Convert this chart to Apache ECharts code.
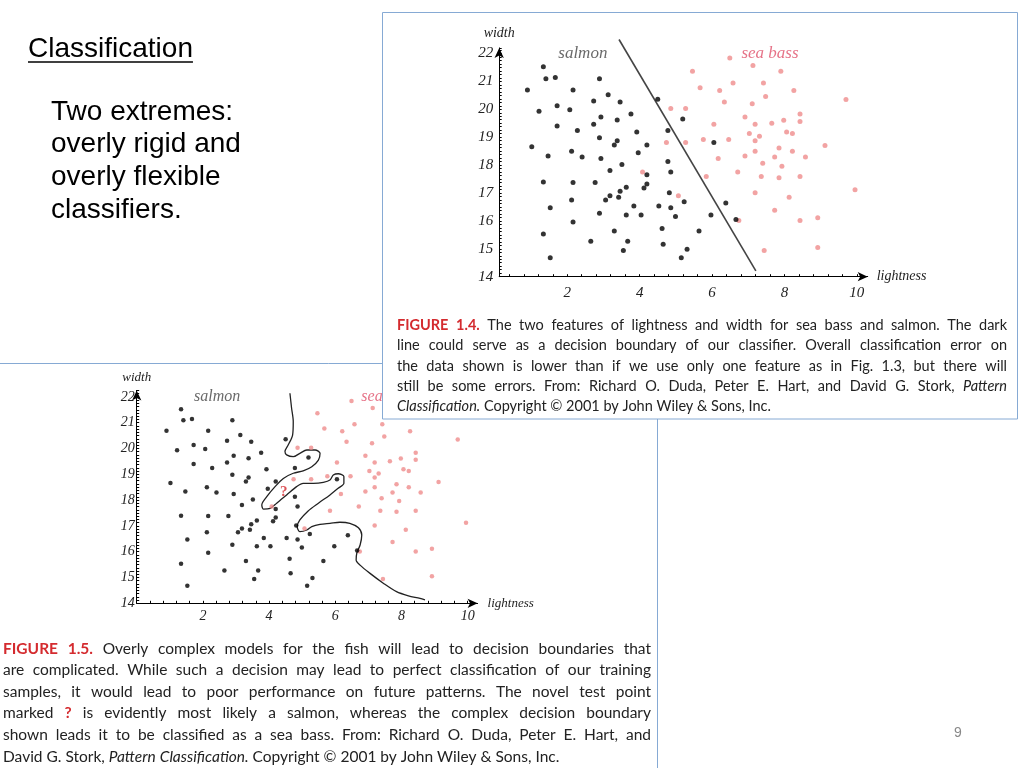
<!DOCTYPE html>
<html><head><meta charset="utf-8">
<script src="https://cdn.jsdelivr.net/npm/echarts@6/dist/echarts.min.js"></script>
<style>html,body{margin:0;padding:0;background:#fff}#c{width:1024px;height:768px}</style>
</head><body><div id="c"></div>
<script>
// ---- data ----
const xTickLabels = [2, 4, 6, 8, 10];
const yTickLabels = [14, 15, 16, 17, 18, 19, 20, 21, 22];
const salmon = [
 [0.90,20.69],[1.34,21.52],[1.41,21.09],[1.67,21.14],[1.22,19.93],[1.72,20.13],[1.72,19.40],[1.02,18.66],
 [1.47,18.33],[1.34,17.39],[1.53,16.47],[1.34,15.53],[1.53,14.68],[2.16,20.69],[2.07,19.98],[2.28,19.24],
 [2.12,18.50],[2.41,18.29],[2.16,17.38],[2.12,16.75],[2.16,15.96],[2.89,21.09],[2.73,20.30],[2.93,19.72],
 [2.73,19.46],[2.89,18.98],[2.93,18.24],[2.77,17.38],[2.89,16.27],[2.65,15.27],[3.13,20.52],[3.46,20.26],
 [3.38,19.62],[3.76,19.83],[3.38,18.87],[3.30,18.72],[3.18,17.81],[3.51,18.02],[3.18,16.90],[3.06,16.75],
 [3.46,17.06],[3.42,16.85],[3.63,17.21],[3.30,15.64],[3.63,16.21],[3.67,15.27],[3.55,14.94],[3.92,19.19],
 [3.96,18.44],[4.20,18.72],[4.20,17.65],[4.20,17.32],[4.12,17.18],[3.84,16.53],[4.04,16.21],[4.50,20.36],
 [4.53,16.53],[4.62,15.73],[4.65,15.16],[4.78,19.24],[4.78,18.13],[4.86,17.75],[4.82,17.01],[4.86,16.47],
 [4.99,16.16],[5.19,19.65],[5.23,16.69],[5.31,14.98],[5.15,14.68],[5.64,15.64],[6.05,18.81],[5.97,16.21],
 [6.38,16.64],[6.66,16.05]
];
const seaBass = [
 [6.49,21.84],[5.46,21.36],[7.13,21.57],[7.90,21.36],[5.67,20.77],[6.21,20.67],[6.58,20.94],[7.42,20.94],
 [8.26,20.67],[7.48,20.46],[6.34,20.26],[7.11,20.20],[9.70,20.35],[4.86,20.03],[5.27,20.03],[6.05,19.46],
 [6.91,19.72],[7.19,19.46],[7.65,19.50],[7.98,19.61],[8.43,19.83],[8.43,19.56],[8.06,19.19],[8.22,19.13],
 [7.03,19.13],[7.31,19.03],[7.19,18.87],[5.76,18.92],[6.46,18.92],[4.74,18.81],[5.27,18.81],[9.12,18.70],
 [7.85,18.61],[7.19,18.50],[8.22,18.50],[6.91,18.33],[7.73,18.29],[6.17,18.24],[8.58,18.29],[7.40,18.07],
 [7.93,17.96],[4.08,17.75],[5.84,17.59],[6.71,17.75],[7.36,17.59],[7.85,17.55],[8.43,17.59],[7.19,17.01],
 [5.07,16.90],[8.13,16.85],[9.95,17.12],[7.73,16.38],[6.74,16.01],[8.43,16.01],[8.92,16.11],[8.92,15.05],
 [7.44,14.94]
];
const linearBoundary = [[3.43,22.50],[7.21,14.21]];
const complexBoundary = [
 [4.63,22.14],[4.68,21.56],[4.73,21.04],[4.71,20.52],[4.58,20.14],[4.48,19.88],[4.53,19.75],[4.73,19.68],
 [4.93,19.81],[5.14,19.94],[5.39,19.94],[5.54,19.81],[5.49,19.55],[5.29,19.29],[5.03,19.13],[4.73,19.04],
 [4.43,18.84],[4.18,18.52],[3.93,18.13],[3.78,17.81],[3.83,17.65],[4.03,17.68],[4.23,17.88],[4.53,18.20],
 [4.83,18.52],[5.03,18.65],[5.34,18.65],[5.64,18.69],[5.84,18.78],[5.94,18.97],[6.09,19.02],[6.26,18.91],
 [6.26,18.65],[6.09,18.46],[5.84,18.20],[5.49,17.88],[5.18,17.58],[4.93,17.23],[4.85,16.97],[4.93,16.78],
 [5.14,16.84],[5.29,16.97],[5.54,17.06],[5.84,17.10],[6.14,17.14],[6.44,17.10],[6.70,16.93],[6.80,16.65],
 [6.75,16.26],[6.65,15.94],[6.63,15.68],[6.75,15.48],[7.05,15.16],[7.45,14.78],[7.85,14.45],[8.21,14.29],
 [8.56,14.19],[8.71,14.13]
];
const testPoint = [[4.44,18.32]];
const classLabels = [
 {text: 'salmon', x: 2.43, y: 22.0, color: '#444'},
 {text: 'sea bass', x: 7.6, y: 22.0, color: '#e0506a'}
];
const cap14 = [
 "^FIGURE ^1.4. The two features of lightness and width for sea bass and salmon. The dark",
 "line could serve as a decision boundary of our classifier. Overall classification error on",
 "the data shown is lower than if we use only one feature as in Fig. 1.3, but there will",
 "still be some errors. From: Richard O. Duda, Peter E. Hart, and David G. Stork, _Pattern",
 "_Classification. Copyright © 2001 by John Wiley & Sons, Inc."
];
const cap15 = [
 "^FIGURE ^1.5. Overly complex models for the fish will lead to decision boundaries that",
 "are complicated. While such a decision may lead to perfect classification of our training",
 "samples, it would lead to poor performance on future patterns. The novel test point",
 "marked ^? is evidently most likely a salmon, whereas the complex decision boundary",
 "shown leads it to be classified as a sea bass. From: Richard O. Duda, Peter E. Hart, and",
 "David G. Stork, _Pattern _Classification. Copyright © 2001 by John Wiley & Sons, Inc."
];
const bodyLines = ["Two extremes:", "overly rigid and", "overly flexible", "classifiers."];

// ---- helpers ----
const RED = '#d42b2f';
const BORDER = '#86aad4';
const SERIF = 'Liberation Serif';
const CAPFONT = 'Lato';
const mctx = document.createElement('canvas').getContext('2d');

// small x ticks every 0.4 along the lightness axis
const xMinorTicks = [];
for (let k = 0; k <= 25; k++) xMinorTicks.push(Math.round(k * 0.4 * 100) / 100);

function caption(lines, left, right, y0, step, size, z) {
  const els = [];
  lines.forEach((line, i) => {
    const toks = line.split(' ').filter(Boolean).map(t => {
      let st = 'n';
      if (t[0] === '^') { st = 'r'; t = t.slice(1); }
      else if (t[0] === '_') { st = 'i'; t = t.slice(1); }
      return {t, st};
    });
    const fw = toks.map(k => k.st === 'r' ? 'bold' : 'normal');
    const fs = toks.map(k => k.st === 'i' ? 'italic' : 'normal');
    const widths = toks.map((k, j) => { mctx.font = fs[j] + ' ' + fw[j] + ' ' + size + 'px ' + CAPFONT; return mctx.measureText(k.t).width; });
    const total = widths.reduce((a, b) => a + b, 0);
    mctx.font = size + 'px ' + CAPFONT;
    const sp = mctx.measureText(' ').width;
    const last = i === lines.length - 1;
    const gap = last ? sp : (right - left - total) / (toks.length - 1);
    let x = left;
    toks.forEach((k, j) => {
      els.push({type: 'text', z, x, y: y0 + i * step, silent: true,
        style: {text: k.t, fontFamily: CAPFONT, fontSize: size, fontWeight: fw[j], fontStyle: fs[j],
          fill: k.st === 'r' ? RED : '#222', align: 'left', verticalAlign: 'middle'}});
      x += widths[j] + gap;
    });
  });
  return els;
}

function axisText(size) { return {fontFamily: SERIF, fontStyle: 'italic', fontSize: size, color: '#222'}; }

function xAxisOpt(gi, z, min, margin, nameGap, lblSize, nameSize) {
  return {type: 'value', gridIndex: gi, min, max: 10.3, z,
    axisLine: {show: true, onZero: false, symbol: ['none', 'arrow'], symbolSize: [7, 10], lineStyle: {color: '#000', width: 1}},
    axisTick: {show: true, inside: true, length: 2.5, customValues: xMinorTicks.filter(v => v > min), lineStyle: {color: '#000'}},
    minorTick: {show: false},
    splitLine: {show: false}, minorSplitLine: {show: false},
    axisLabel: Object.assign({margin, customValues: xTickLabels, formatter: v => String(v)}, axisText(lblSize)),
    name: 'lightness', nameLocation: 'end', nameGap, nameTextStyle: Object.assign({align: 'left', verticalAlign: 'middle'}, axisText(nameSize))
  };
}
function yAxisOpt(gi, z, max, margin, nameGap, lblSize, nameSize) {
  return {type: 'value', gridIndex: gi, min: 14, max, interval: 1, z,
    axisLine: {show: true, onZero: false, symbol: ['none', 'arrow'], symbolSize: [7, 10], lineStyle: {color: '#000', width: 1}},
    axisTick: {show: true, inside: true, length: 2.5, lineStyle: {color: '#000'}},
    minorTick: {show: true, splitNumber: 8, length: 2.5, lineStyle: {color: '#000'}},
    splitLine: {show: false}, minorSplitLine: {show: false},
    axisLabel: Object.assign({margin, formatter: v => yTickLabels.includes(v) ? String(v) : ''}, axisText(lblSize)),
    name: 'width', nameLocation: 'end', nameGap, nameTextStyle: axisText(nameSize)
  };
}

function chartSeries(gi, z, dotSize, labelSize, lineData, lineOpts, extra) {
  const s = [
    {type: 'scatter', xAxisIndex: gi, yAxisIndex: gi, z, data: seaBass, symbolSize: dotSize, itemStyle: {color: '#ef8c8c'}, silent: true},
    {type: 'scatter', xAxisIndex: gi, yAxisIndex: gi, z, data: salmon, symbolSize: dotSize, itemStyle: {color: '#000'}, silent: true},
    Object.assign({type: 'line', xAxisIndex: gi, yAxisIndex: gi, z, data: lineData, symbol: 'none', clip: false, silent: true}, lineOpts),
    {type: 'scatter', xAxisIndex: gi, yAxisIndex: gi, z, silent: true, symbolSize: 1, itemStyle: {color: 'rgba(0,0,0,0)'},
      data: classLabels.map(a => ({name: a.text, value: [a.x, a.y],
        label: {show: true, position: 'inside', formatter: '{b}', color: a.color, fontFamily: SERIF, fontStyle: 'italic', fontSize: labelSize}}))}
  ];
  return s.concat(extra || []);
}

// ---- graphics (slide layout) ----
const graphics = [];
graphics.push({type: 'line', z: 1, silent: true, shape: {x1: 0, y1: 363.5, x2: 657.5, y2: 363.5}, style: {stroke: BORDER, lineWidth: 1}});
graphics.push({type: 'line', z: 1, silent: true, shape: {x1: 657.5, y1: 363.5, x2: 657.5, y2: 768}, style: {stroke: BORDER, lineWidth: 1}});
graphics.push({type: 'rect', z: 10, silent: true, shape: {x: 382.5, y: 12.5, width: 635, height: 406.5}, style: {fill: '#fff', stroke: BORDER, lineWidth: 1}});
mctx.font = '28px Liberation Sans';
const titleW = mctx.measureText('Classification').width;
graphics.push({type: 'text', z: 1, silent: true, x: 28, y: 49.5, style: {text: 'Classification', fontFamily: 'Liberation Sans', fontSize: 28, fill: '#000', verticalAlign: 'middle'}});
graphics.push({type: 'line', z: 1, silent: true, shape: {x1: 28, y1: 62, x2: 28 + titleW, y2: 62}, style: {stroke: '#000', lineWidth: 1.5}});
bodyLines.forEach((t, i) => graphics.push({type: 'text', z: 1, silent: true, x: 51, y: 112 + i * 32.7,
  style: {text: t, fontFamily: 'Liberation Sans', fontSize: 28, fill: '#000', verticalAlign: 'middle'}}));
graphics.push({type: 'text', z: 1, silent: true, x: 958, y: 733, style: {text: '9', fontFamily: 'Liberation Sans', fontSize: 14, fill: '#888', align: 'center', verticalAlign: 'middle'}});
caption(cap14, 397, 1007, 325.5, 20.3, 14.5, 20).forEach(e => graphics.push(e));
caption(cap15, 3, 651, 648.5, 21.6, 15.5, 1).forEach(e => graphics.push(e));

const chart = echarts.init(document.getElementById('c'), null, {renderer: 'canvas'});
chart.setOption({
  animation: false,
  grid: [
    {left: 499.2, top: 47.9, width: 368.5, height: 228.8},
    {left: 136.7, top: 390.4, width: 340.9, height: 212.9}
  ],
  xAxis: [xAxisOpt(0, 20, 0.12, 9, 9, 15, 14), xAxisOpt(1, 0, 0, 6.5, 10, 14, 13)],
  yAxis: [yAxisOpt(0, 20, 22.2, 6, 8, 15, 14), yAxisOpt(1, 0, 22.25, 2, 6, 14, 13)],
  series: [].concat(
    chartSeries(0, 21, 5, 17, linearBoundary, {lineStyle: {color: '#444', width: 1.6}}),
    chartSeries(1, 2, 4.5, 16, complexBoundary, {smooth: 0.3, lineStyle: {color: '#222', width: 1.3}},
      [{type: 'scatter', xAxisIndex: 1, yAxisIndex: 1, z: 3, silent: true, data: testPoint, symbolSize: 1, itemStyle: {color: 'rgba(0,0,0,0)'},
        label: {show: true, position: 'inside', formatter: '?', color: RED, fontFamily: SERIF, fontWeight: 'bold', fontSize: 15}}])
  ),
  graphic: {elements: graphics}
});
</script></body></html>
